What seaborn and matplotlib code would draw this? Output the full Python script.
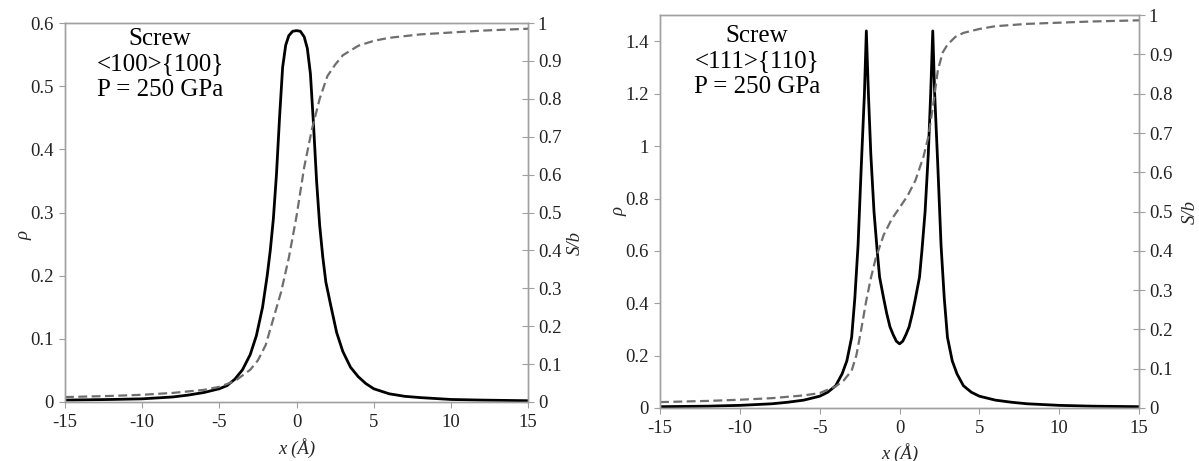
import numpy as np
import matplotlib
matplotlib.use("Agg")
import matplotlib.pyplot as plt
import seaborn as sns

# Left panel: <100>{100}
x_rho_a = [-15, -12, -10, -8, -7, -6, -5, -4.5, -4, -3.5, -3, -2.6, -2.2, -1.9, -1.7, -1.5,
           -1.3, -1.1, -0.9, -0.7, -0.5, -0.25, 0, 0.25, 0.5, 0.7, 0.9, 1.1, 1.3, 1.5, 1.7,
           1.9, 2.2, 2.6, 3, 3.5, 4, 4.5, 5, 6, 7, 8, 10, 12, 15]
rho_a = [0.003, 0.004, 0.005, 0.008, 0.011, 0.015, 0.021, 0.026, 0.036, 0.051, 0.075, 0.105,
         0.15, 0.2, 0.24, 0.29, 0.36, 0.45, 0.53, 0.565, 0.58, 0.587, 0.588, 0.587, 0.578,
         0.56, 0.52, 0.44, 0.35, 0.28, 0.23, 0.19, 0.155, 0.11, 0.08, 0.055, 0.04, 0.029,
         0.021, 0.013, 0.009, 0.007, 0.004, 0.003, 0.002]
x_s_a = [-15, -12, -10, -8, -6, -5, -4, -3, -2.5, -2, -1.5, -1, -0.5, 0, 0.5, 1, 1.5, 2, 2.5,
         3, 4, 5, 6, 8, 10, 12, 15]
s_a = [0.013, 0.016, 0.019, 0.024, 0.032, 0.04, 0.055, 0.085, 0.11, 0.15, 0.22, 0.29, 0.38,
       0.49, 0.62, 0.72, 0.80, 0.86, 0.89, 0.915, 0.94, 0.953, 0.961, 0.97, 0.975, 0.98, 0.985]

# Right panel: <111>{110}
x_rho_b = [-15, -12, -10, -8, -7, -6, -5, -4.5, -4, -3.6, -3.3, -3, -2.8, -2.6, -2.4, -2.2,
           -2.08, -1.95, -1.8, -1.6, -1.4, -1.25, -1, -0.8, -0.6, -0.4, -0.2, 0,
           0.2, 0.4, 0.6, 0.8, 1, 1.25, 1.4, 1.6, 1.8, 1.95, 2.08, 2.2, 2.4, 2.6, 2.8, 3,
           3.3, 3.6, 4, 4.5, 5, 6, 7, 8, 10, 12, 15]
rho_b = [0.005, 0.007, 0.01, 0.016, 0.022, 0.03, 0.045, 0.06, 0.085, 0.13, 0.18, 0.27, 0.42,
         0.62, 0.92, 1.2, 1.44, 1.2, 0.97, 0.75, 0.6, 0.5, 0.42, 0.36, 0.31, 0.28, 0.255, 0.245,
         0.255, 0.28, 0.31, 0.36, 0.42, 0.5, 0.6, 0.75, 0.97, 1.2, 1.44, 1.2, 0.92, 0.62, 0.42,
         0.27, 0.18, 0.13, 0.085, 0.06, 0.045, 0.03, 0.022, 0.016, 0.01, 0.007, 0.005]
x_s_b = [-15, -12, -10, -8, -6, -5, -4, -3.5, -3, -2.7, -2.4, -2.1, -1.8, -1.5, -1, -0.5, 0,
         0.5, 1, 1.5, 1.8, 2.1, 2.4, 2.7, 3, 3.5, 4, 5, 6, 8, 10, 12, 15]
s_b = [0.015, 0.018, 0.021, 0.025, 0.032, 0.038, 0.055, 0.07, 0.095, 0.135, 0.2, 0.27, 0.33,
       0.38, 0.44, 0.48, 0.51, 0.54, 0.58, 0.64, 0.69, 0.77, 0.86, 0.905, 0.925, 0.945, 0.955,
       0.965, 0.972, 0.978, 0.981, 0.984, 0.987]

labels = ["Screw\n<100>{100}\nP = 250 GPa", "Screw\n<111>{110}\nP = 250 GPa"]

sns.set_style("white")
plt.rcParams["font.family"] = ["Liberation Serif", "DejaVu Serif"]
plt.rcParams["axes.unicode_minus"] = False

fig = plt.figure(figsize=(11.99, 4.61), dpi=100)
axes = [fig.add_axes([0.0542, 0.128, 0.3862, 0.822]),
        fig.add_axes([0.5505, 0.115, 0.3995, 0.852])]

panels = [
    (x_rho_a, rho_a, x_s_a, s_a, 0.6, np.arange(0, 0.61, 0.1), (0.205, 0.987), (-0.071, 0.44), (1.083, 0.42), -0.095),
    (x_rho_b, rho_b, x_s_b, s_b, 1.5, np.arange(0, 1.41, 0.2), (0.2025, 0.975), (-0.069, 0.5), (1.09, 0.5), -0.09),
]

spine_col = "#a0a0a0"
tick_col = "#222222"

for ax, (xr, r, xs, s, ymax, yt, tpos, rlab, slab, xly), lab in zip(axes, panels, labels):
    ax2 = ax.twinx()
    sns.lineplot(x=xr, y=r, ax=ax, color="black", linewidth=2.0)
    sns.lineplot(x=xs, y=s, ax=ax2, color="#6e6e6e", linewidth=1.6)
    ax2.lines[0].set_dashes([4, 2])

    ax.set_xlim(-15, 15)
    ax.set_ylim(0, ymax)
    ax2.set_ylim(0, 1)
    ax.set_xticks(range(-15, 16, 5))
    ax.set_yticks(yt)
    ax.set_yticklabels([f"{v:g}" for v in np.round(yt, 1)])
    st = np.round(np.arange(0, 1.01, 0.1), 1)
    ax2.set_yticks(st)
    ax2.set_yticklabels([f"{v:g}" for v in st])

    for a in (ax, ax2):
        for sp in a.spines.values():
            sp.set_color(spine_col)
            sp.set_linewidth(1.0)
    ax.tick_params(axis="both", direction="out", length=4, width=0.8, color=spine_col,
                   labelsize=13.5, labelcolor=tick_col, pad=4)
    ax.tick_params(axis="x", bottom=True, pad=5)
    ax.tick_params(axis="y", left=True)
    ax2.tick_params(axis="y", direction="inout", length=8, width=0.8, color=spine_col,
                    labelsize=13.5, labelcolor=tick_col, right=True, pad=3)

    ax.set_xlabel("x (Å)", fontsize=13.5, style="italic")
    ax.xaxis.set_label_coords(0.5, xly)
    ax.set_ylabel("ρ", fontsize=13.5, style="italic")
    ax.yaxis.set_label_coords(*rlab)
    ax2.set_ylabel("S/b", fontsize=13.5, style="italic")
    ax2.yaxis.set_label_coords(*slab)

    ax.text(tpos[0], tpos[1], lab, transform=ax.transAxes, ha="center", va="top",
            multialignment="center", fontsize=18, linespacing=1.2, color="black")

fig.savefig("out.png", dpi=100)
